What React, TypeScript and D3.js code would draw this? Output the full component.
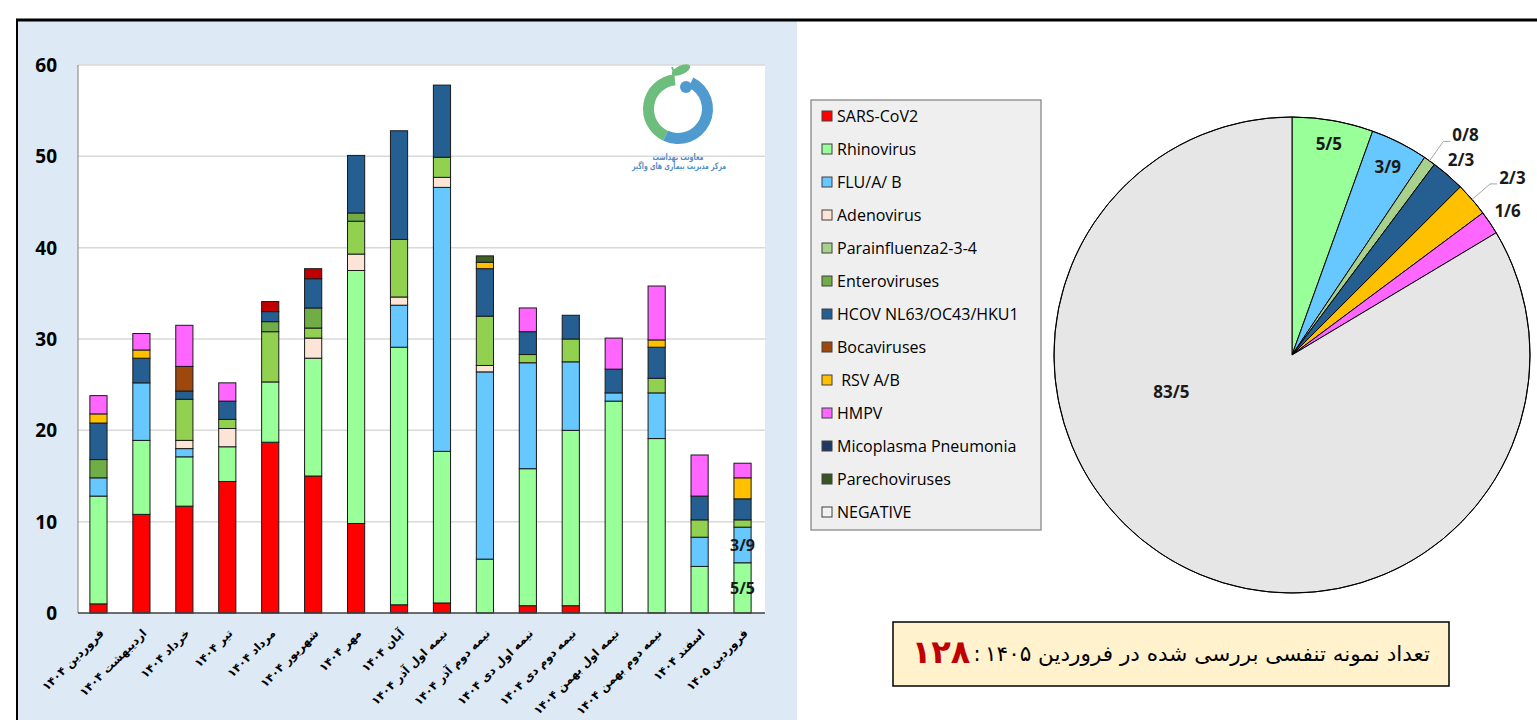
import React from "react";
import * as d3 from "d3";

// ---------- DATA ----------
const categories = [
  "فروردین ۱۴۰۴",
  "اردیبهشت ۱۴۰۴",
  "خرداد ۱۴۰۴",
  "تیر ۱۴۰۴",
  "مرداد ۱۴۰۴",
  "شهریور ۱۴۰۴",
  "مهر ۱۴۰۴",
  "آبان ۱۴۰۴",
  "نیمه اول آذر ۱۴۰۴",
  "نیمه دوم آذر ۱۴۰۴",
  "نیمه اول دی ۱۴۰۴",
  "نیمه دوم دی ۱۴۰۴",
  "نیمه اول بهمن ۱۴۰۴",
  "نیمه دوم بهمن ۱۴۰۴",
  "اسفند ۱۴۰۴",
  "فروردین ۱۴۰۵",
];

const seriesNames = [
  "SARS-CoV2",
  "Rhinovirus",
  "FLU/A/ B",
  "Adenovirus",
  "Parainfluenza2-3-4",
  "Enteroviruses",
  "HCOV NL63/OC43/HKU1",
  "Bocaviruses",
  " RSV A/B",
  "HMPV",
  "Micoplasma Pneumonia",
  "Parechoviruses",
  "NEGATIVE",
];

const barColors = [
  "#ff0000", "#99ff99", "#66c8ff", "#fce4d6", "#92d050", "#70ad47",
  "#255e91", "#9e480e", "#ffc000", "#ff66ff", "#c00000", "#3f6129",
];
const legendColors = [
  "#ff0000", "#99ff99", "#66c8ff", "#fce4d6", "#a9d18e", "#70ad47",
  "#255e91", "#9e480e", "#ffc000", "#ff66ff", "#203864", "#375623", "#f2f2f2",
];

const sarsCoV2 = [1.0, 10.8, 11.7, 14.4, 18.7, 15.0, 9.8, 0.9, 1.1, 0, 0.8, 0.8, 0, 0, 0, 0];
const rhinovirus = [11.8, 8.1, 5.4, 3.8, 6.6, 12.9, 27.7, 28.2, 16.6, 5.9, 15.0, 19.2, 23.2, 19.1, 5.1, 5.5];
const flu = [2.0, 6.3, 0.9, 0, 0, 0, 0, 4.6, 28.9, 20.5, 11.6, 7.5, 0.9, 5.0, 3.2, 3.9];
const adenovirus = [0, 0, 0.9, 2.0, 0, 2.2, 1.8, 0.9, 1.1, 0.7, 0, 0, 0, 0, 0, 0];
const parainfluenza = [0, 0, 4.5, 1.0, 5.5, 1.1, 3.6, 6.3, 2.2, 5.4, 0.9, 2.5, 0, 1.6, 1.9, 0.8];
const enteroviruses = [2.0, 0, 0, 0, 1.1, 2.2, 0.9, 0, 0, 0, 0, 0, 0, 0, 0, 0];
const hcov = [4.0, 2.7, 0.9, 2.0, 1.1, 3.2, 6.3, 11.9, 7.9, 5.2, 2.5, 2.6, 2.6, 3.4, 2.6, 2.3];
const bocaviruses = [0, 0, 2.7, 0, 0, 0, 0, 0, 0, 0, 0, 0, 0, 0, 0, 0];
const rsv = [1.0, 0.9, 0, 0, 0, 0, 0, 0, 0, 0.7, 0, 0, 0, 0.8, 0, 2.3];
const hmpv = [2.0, 1.8, 4.5, 2.0, 0, 0, 0, 0, 0, 0, 2.6, 0, 3.4, 5.9, 4.5, 1.6];
const micoplasma = [0, 0, 0, 0, 1.1, 1.1, 0, 0, 0, 0, 0, 0, 0, 0, 0, 0];
const parechoviruses = [0, 0, 0, 0, 0, 0, 0, 0, 0, 0.7, 0, 0, 0, 0, 0, 0];

const barSeries = [
  sarsCoV2, rhinovirus, flu, adenovirus, parainfluenza, enteroviruses,
  hcov, bocaviruses, rsv, hmpv, micoplasma, parechoviruses,
];

const yTicks = [0, 10, 20, 30, 40, 50, 60];

// labelled segments on the last bar: series indices
const labelledLastBarSeries = [1, 2];

const pieValues = [5.5, 3.9, 0.8, 2.3, 2.3, 1.6, 83.5];
const pieColors = ["#99ff99", "#66c8ff", "#a9d18e", "#255e91", "#ffc000", "#ff66ff", "#e6e6e6"];
// label placement: kind, radius factor, optional angle override (deg)
const pieLabelKind = ["in", "in", "leader", "out", "leader", "out", "in"];
const pieLabelRadius = [0.9, 0.89, 1.1, 1.085, 1.1, 1.09, 0.53];
const pieLabelAngle: (number | null)[] = [null, null, null, null, null, null, 253];

const totalSamples = "۱۲۸";
const boxText = "تعداد نمونه تنفسی بررسی شده در فروردین ۱۴۰۵";

const fmt = (v: number) => v.toFixed(1).replace(".", "/");

export default function App() {
  const W = 1537, H = 720;
  const x = d3.scaleBand<string>().domain(categories).range([77, 764]).paddingInner(0.6).paddingOuter(0.3);
  const y = d3.scaleLinear().domain([0, 60]).range([613, 65]);

  const rows = categories.map((c, i) => {
    const r: any = { cat: c };
    barSeries.forEach((s, k) => (r[String(k)] = s[i]));
    return r;
  });
  const stack = d3.stack<any>().keys(barSeries.map((_, k) => String(k)))(rows);

  // pie
  const cx = 1292, cy = 355, R = 238;
  const pieGen = d3.pie<number>().sort(null).value((d) => d);
  const arcs = pieGen(pieValues);
  const arcGen = d3.arc<d3.PieArcDatum<number>>().innerRadius(0).outerRadius(R);
  const polar = (ang: number, r: number) => [cx + r * Math.sin(ang), cy - r * Math.cos(ang)];

  // logo arcs
  const logoArc = d3.arc<any>();
  const lx = 678, ly = 109;
  const deg = (d: number) => (d * Math.PI) / 180;

  const sansFont = "'Open Sans', 'DejaVu Sans', sans-serif";
  const faFont = "'DejaVu Sans', sans-serif";

  return (
    <svg width={W} height={H} style={{ position: "absolute", left: 0, top: 0, background: "#fff" }}>
      {/* panels */}
      <rect x={17} y={20} width={780} height={H} fill="#dde9f5" />
      <line x1={16} x2={W} y1={20} y2={20} stroke="#000" strokeWidth={3} />
      <line x1={17} x2={17} y1={20} y2={H} stroke="#000" strokeWidth={2} />

      {/* plot area */}
      <rect x={78} y={65} width={687} height={548} fill="#fff" />
      {yTicks.map((t) => (
        <g key={t}>
          {t > 0 && <line x1={78} x2={765} y1={y(t)} y2={y(t)} stroke="#d9d9d9" strokeWidth={1.5} />}
          <text x={57} y={y(t)} textAnchor="end" dominantBaseline="central" fontFamily={sansFont} fontWeight={700} fontSize={19} fill="#000">
            {t}
          </text>
        </g>
      ))}
      <line x1={78} x2={78} y1={65} y2={613} stroke="#7f7f7f" strokeWidth={1} />

      {/* logo */}
      <g>
        <path
          transform={`translate(${lx},${ly})`}
          d={logoArc({ innerRadius: 24, outerRadius: 35, startAngle: deg(-155), endAngle: deg(-6) }) as string}
          fill="#6dbd7c"
        />
        <path
          transform={`translate(${lx},${ly})`}
          d={logoArc({ innerRadius: 24, outerRadius: 35, startAngle: deg(26), endAngle: deg(205) }) as string}
          fill="#4f9bcf"
        />
        <circle cx={lx + 8} cy={ly - 22} r={6} fill="#4f9bcf" />
        <line x1={lx - 6} y1={ly - 42} x2={lx - 3} y2={ly - 34} stroke="#6dbd7c" strokeWidth={2} />
        <ellipse cx={lx + 3} cy={ly - 39} rx={10} ry={4.5} transform={`rotate(-25 ${lx + 3} ${ly - 39})`} fill="#6dbd7c" />
        <text x={678} y={160} textAnchor="middle" fontFamily={faFont} fontWeight={700} fontSize={9} fill="#4f8fc8" textLength={51} lengthAdjust="spacingAndGlyphs">
          معاونت بهداشت
        </text>
        <text x={679} y={169} textAnchor="middle" fontFamily={faFont} fontWeight={700} fontSize={9} fill="#4f8fc8" textLength={94} lengthAdjust="spacingAndGlyphs">
          مرکز مدیریت بیماری های واگیر
        </text>
      </g>

      {/* bars */}
      {stack.map((layer, k) =>
        layer.map((seg, i) => {
          const v = seg[1] - seg[0];
          if (v <= 0) return null;
          const cat = categories[i];
          return (
            <rect
              key={`${k}-${i}`}
              x={x(cat)}
              y={y(seg[1])}
              width={x.bandwidth()}
              height={y(seg[0]) - y(seg[1])}
              fill={barColors[k]}
              stroke="#1a1a1a"
              strokeWidth={1}
            />
          );
        })
      )}
      {/* labels on last bar */}
      {labelledLastBarSeries.map((k) => {
        const i = categories.length - 1;
        const seg = stack[k][i];
        const cat = categories[i];
        return (
          <text
            key={`lbl${k}`}
            x={(x(cat) as number) + x.bandwidth() / 2}
            y={y((seg[0] + seg[1]) / 2)}
            textAnchor="middle"
            dominantBaseline="central"
            fontFamily={sansFont}
            fontWeight={700}
            fontSize={16}
            fill="#1a1a1a"
          >
            {fmt(seg[1] - seg[0])}
          </text>
        );
      })}
      <line x1={78} x2={765} y1={613} y2={613} stroke="#404040" strokeWidth={1.5} />

      {/* x labels */}
      {categories.map((c) => {
        const px = (x(c) as number) + x.bandwidth() / 2 + 6;
        const py = 634;
        return (
          <text
            key={c}
            x={px}
            y={py}
            transform={`rotate(-45 ${px} ${py})`}
            textAnchor="end"
            fontFamily={faFont}
            fontWeight={700}
            fontSize={11.5}
            fill="#000"
          >
            {c}
          </text>
        );
      })}

      {/* legend */}
      <rect x={811} y={100} width={230} height={430} fill="#efefef" stroke="#7f7f7f" strokeWidth={1.2} />
      {seriesNames.map((n, i) => {
        const yy = 116 + i * 33;
        return (
          <g key={n}>
            <rect x={822} y={yy - 5} width={10} height={10} fill={legendColors[i]} stroke="#404040" strokeWidth={1} />
            <text x={837} y={yy} dominantBaseline="central" fontFamily={sansFont} fontSize={16} fill="#000" style={{ whiteSpace: "pre" }}>
              {n}
            </text>
          </g>
        );
      })}

      {/* pie */}
      <g transform={`translate(${cx},${cy})`}>
        {arcs.map((a, i) => (
          <path key={i} d={arcGen(a) as string} fill={pieColors[i]} stroke="#000" strokeWidth={1} />
        ))}
      </g>
      <circle cx={cx} cy={cy} r={R} fill="none" stroke="#000" strokeWidth={1} />
      {arcs.map((a, i) => {
        const mid = pieLabelAngle[i] != null ? ((pieLabelAngle[i] as number) * Math.PI) / 180 : (a.startAngle + a.endAngle) / 2;
        const kind = pieLabelKind[i];
        const label = fmt(pieValues[i]);
        if (kind === "leader") {
          const [x0, y0] = polar(mid, R);
          const [x1, y1] = polar(mid, R * pieLabelRadius[i]);
          return (
            <g key={`pl${i}`}>
              <polyline points={`${x0},${y0} ${x1},${y1} ${x1 + 7},${y1}`} fill="none" stroke="#a6a6a6" strokeWidth={1} />
              <text x={x1 + 9} y={y1} textAnchor="start" fontFamily={sansFont} fontWeight={700} fontSize={17} fill="#1a1a1a">
                {label}
              </text>
            </g>
          );
        }
        const [tx, ty] = polar(mid, R * pieLabelRadius[i]);
        return (
          <text key={`pl${i}`} x={tx} y={ty} textAnchor="middle" dominantBaseline="central" fontFamily={sansFont} fontWeight={700} fontSize={17} fill="#1a1a1a">
            {label}
          </text>
        );
      })}

      {/* bottom box */}
      <rect x={893} y={622} width={556} height={64} fill="#fff2cc" stroke="#000" strokeWidth={1.5} />
      <text x={1430} y={661} textAnchor="end" fontFamily={faFont} fontSize={21} fill="#000" textLength={445} lengthAdjust="spacingAndGlyphs">
        {boxText}
      </text>
      <text x={977} y={661} textAnchor="middle" fontFamily={faFont} fontSize={21} fill="#000">:</text>
      <text x={941} y={663} textAnchor="middle" fontFamily={faFont} fontWeight={700} fontSize={32} fill="#c00000">
        {totalSamples}
      </text>
    </svg>
  );
}
